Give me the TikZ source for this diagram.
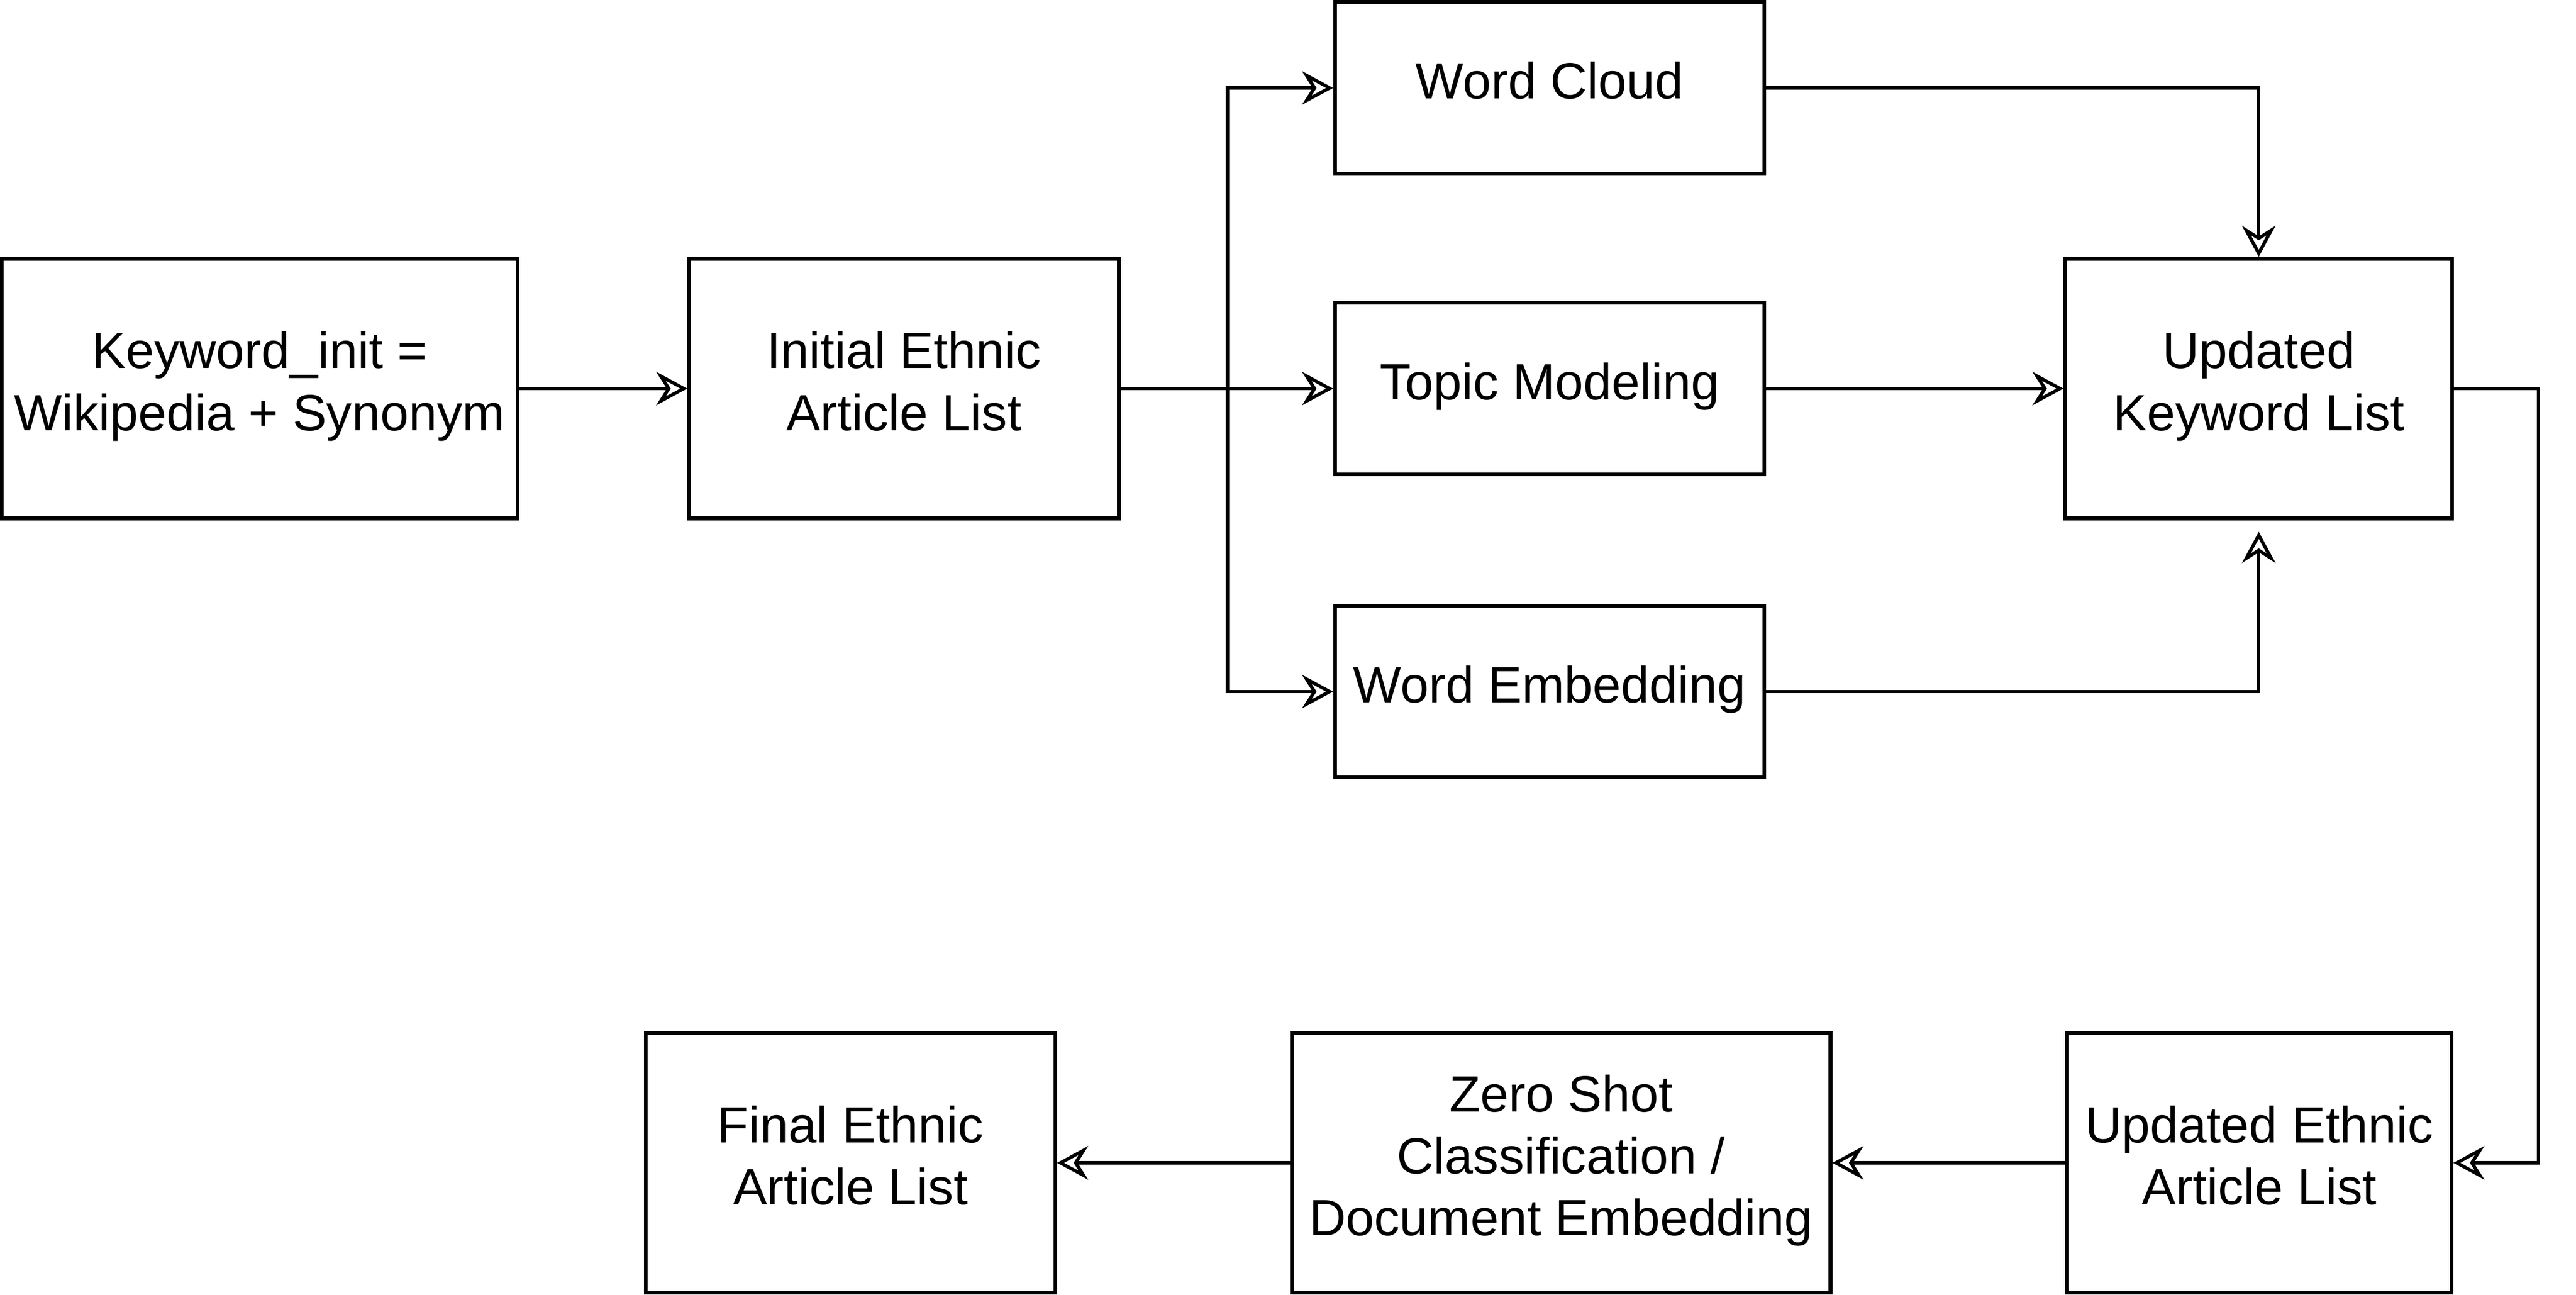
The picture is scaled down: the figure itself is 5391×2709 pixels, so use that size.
\documentclass[tikz,border=0pt]{standalone}
\usepackage{fontspec}
\setmainfont{Liberation Sans}
\usetikzlibrary{arrows.meta}

\tikzset{
	block/.style={draw, line width=2.2pt, fill=white, inner sep=0pt, align=center, text depth=0.32cm, minimum height=5.43cm, font=\fontsize{30.3}{36.9}\selectfont},
	smallblock/.style={block, minimum width=8.98cm, minimum height=3.59cm},
	flow/.style={line width=2pt, -{Stealth[open, length=6.5mm, width=7mm, inset=2.2mm]}}
}

\begin{document}
\begin{tikzpicture}[x=0.01cm, y=-0.01cm]
		\useasboundingbox (0,0) rectangle (5391,2709);
		\fill[white] (0,0) rectangle (5391,2709);

		\node[block, minimum width=10.79cm] (kwinit) at (543,813) {Keyword\_init =\\Wikipedia + Synonym};
		\node[block, minimum width=8.99cm] (initlist) at (1892,813) {Initial Ethnic\\Article List};
		\node[smallblock] (cloud) at (3243,184) {Word Cloud};
		\node[smallblock] (topic) at (3243,813) {Topic Modeling};
		\node[smallblock] (embed) at (3243,1447) {Word Embedding};
		\node[block, minimum width=8.09cm] (updkw) at (4727,813) {Updated\\Keyword List};
		\node[block, minimum width=8.04cm] (updlist) at (4728,2433) {Updated Ethnic\\Article List};
		\node[block, minimum width=11.27cm] (zeroshot) at (3267,2433) {Zero Shot\\Classification /\\Document Embedding};
		\node[block, minimum width=8.56cm] (finallist) at (1780,2433) {Final Ethnic\\Article List};

		\coordinate (split) at (2569,813);
		\coordinate (turn) at (5312,813);

		\draw[flow] (kwinit) -- (initlist);
		\draw[flow] (initlist.east) -- (split) |- (cloud.west);
		\draw[flow] (initlist.east) -- (topic.west);
		\draw[flow] (split) |- (embed.west);
		\draw[flow] (cloud.east) -| (updkw.north);
		\draw[flow] (topic.east) -- (updkw.west);
		\draw[flow, shorten >=2.4mm] (embed.east) -| (updkw.south);
		\draw[flow] (updkw.east) -- (turn) |- (updlist.east);
		\draw[flow] (updlist) -- (zeroshot);
		\draw[flow] (zeroshot) -- (finallist);
	\end{tikzpicture}
\end{document}
